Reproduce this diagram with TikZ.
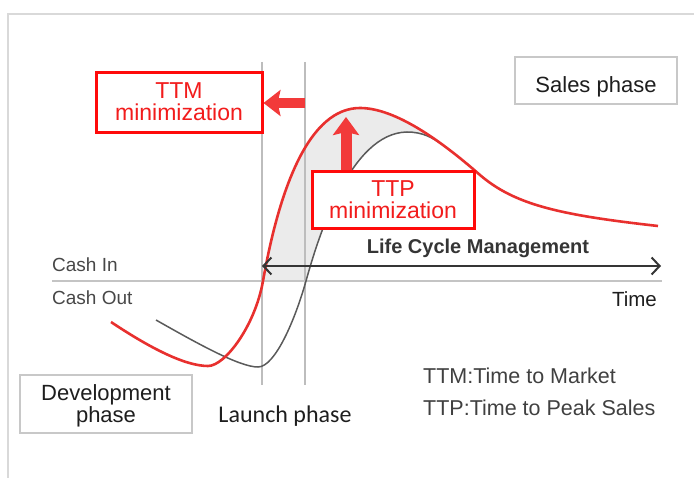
\documentclass[tikz,border=0pt]{standalone}
\usepackage{fontspec}
\setmainfont{Liberation Sans}
\newfontfamily\carlitofont{Carlito}
\usetikzlibrary{arrows.meta}
\definecolor{redbox}{HTML}{FF0A0A}
\definecolor{redtxt}{HTML}{F21C1C}
\definecolor{redarr}{HTML}{F23A3A}
\definecolor{redcurve}{HTML}{E8302E}
\definecolor{graycurve}{HTML}{5A5A5A}
\definecolor{framec}{HTML}{D9D9D9}
\definecolor{vlinec}{HTML}{BDBDBD}
\definecolor{axisc}{HTML}{C4C4C4}
\definecolor{shadec}{HTML}{EBEBEB}
\definecolor{txtdark}{HTML}{1E1E1E}
\definecolor{txtmid}{HTML}{474747}
\definecolor{boxgray}{HTML}{C8C8C8}
\newcommand\fsz[1]{\fontsize{#1}{#1}\selectfont}
\begin{document}
\begin{tikzpicture}[x=1pt,y=-1pt,
  redframe/.style={draw=redbox, line width=3pt, fill=white, inner sep=0pt},
  grayframe/.style={draw=boxgray, line width=2pt, fill=white, inner sep=0pt},
  txt/.style={inner sep=0pt, anchor=base},
  redlabel/.style={txt, text=redtxt, font=\fsz{23}},
  phaselabel/.style={txt, text=txtdark, font=\fsz{22}},
  thickarrow/.style={draw=redarr, line width=10pt},
]
\useasboundingbox (0,0) rectangle (694,478);
% outer frame
\draw[framec, line width=1.5pt] (8,500) -- (8,14) -- (720,14);
% shaded gap between curves
\fill[shadec] (263,281) .. controls (280,185) and (310,108) .. (360,108)
  .. controls (395,108) and (440,140) .. (480,175) -- (443,145)
  .. controls (433,138) and (423,132) .. (407,132)
  .. controls (350,133) and (318,238) .. (306,281) -- cycle;
% vertical phase lines
\draw[vlinec, line width=1.2pt] (262,62) -- (262,385);
\draw[vlinec, line width=1.2pt] (305,62) -- (305,385);
% cash axis
\draw[axisc, line width=1.5pt] (52,281) -- (662,281);
% gray (old) curve
\draw[graycurve, line width=1.5pt] (156,320) .. controls (200,345) and (240,367) .. (258,367)
  .. controls (275,367) and (295,320) .. (306,281)
  .. controls (318,238) and (350,133) .. (407,132)
  .. controls (423,132) and (433,138) .. (443,145);
% red (new) curve
\draw[redcurve, line width=2.6pt] (111,322) .. controls (150,348) and (185,366) .. (208,366)
  .. controls (225,366) and (255,326) .. (263,281)
  .. controls (280,185) and (310,108) .. (360,108)
  .. controls (395,108) and (440,140) .. (480,175)
  .. controls (515,205) and (560,215) .. (658,226);
% life cycle management arrow
\coordinate (lcmL) at (262,266);
\coordinate (lcmR) at (661,266);
\draw[{Straight Barb[length=8pt,width=17pt]}-{Straight Barb[length=8pt,width=17pt]}, line width=2pt, draw=txtdark!90] (lcmL) -- (lcmR);
% boxes
\node[redframe, minimum width=166pt, minimum height=60pt] (ttm) at (179,103) {};
\node[redframe, minimum width=162pt, minimum height=57pt] (ttp) at (393,200.5) {};
\node[grayframe, minimum width=162pt, minimum height=47pt] (sales) at (596,80.5) {};
\node[grayframe, minimum width=172pt, minimum height=58pt] (dev) at (106,404) {};
% red arrows
\coordinate (ttmS) at (305,103);
\draw[thickarrow, -{Stealth[length=17pt,width=26pt,inset=3pt]}] (ttmS) -- (ttm.east);
\coordinate (ttpT) at (346,117);
\draw[thickarrow, line width=11pt, -{Stealth[length=18pt,width=26pt,inset=3pt]}] (ttp.north -| ttpT) -- (ttpT);
% texts
\node[redlabel] (ttm1) at (179,99) {TTM};
\node[redlabel] (ttm2) at (179,121) {minimization};
\node[redlabel] (ttp1) at (393,197) {TTP};
\node[redlabel] (ttp2) at (393,219) {minimization};
\node[phaselabel] (sales1) at (596,92.7) {Sales phase};
\node[phaselabel] (dev1) at (106,401) {Development};
\node[phaselabel] (dev2) at (106,423) {phase};
\node[txt, text=txtdark, font=\carlitofont\fsz{24}] (launch) at (285,423) {Launch phase};
\node[txt, anchor=base west, text=txtmid, font=\fsz{19}] (cashin) at (52,272) {Cash In};
\node[txt, anchor=base west, text=txtmid, font=\fsz{19}] (cashout) at (52,305) {Cash Out};
\node[txt, anchor=base east, text=txtdark, font=\fsz{20.5}] (time) at (657,307) {Time};
\node[txt, text=txtdark!90, font=\fsz{20}\bfseries] (lcm) at (478,254) {Life Cycle Management};
\node[txt, anchor=base west, text=txtmid!90!black, font=\fsz{21.5}] (leg1) at (423,384) {TTM:Time to Market};
\node[txt, anchor=base west, text=txtmid!90!black, font=\fsz{21.5}] (leg2) at (423,416) {TTP:Time to Peak Sales};
\end{tikzpicture}
\end{document}
